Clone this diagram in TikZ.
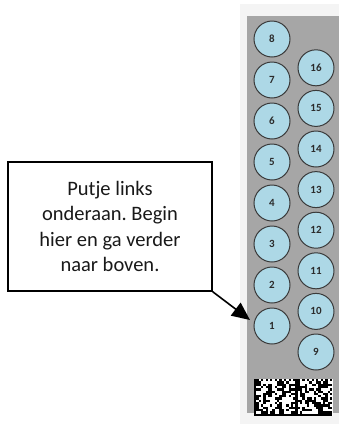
\documentclass[tikz,border=0pt]{standalone}
\usepackage{fontspec}
\setmainfont{Carlito}
\frenchspacing
\usetikzlibrary{arrows.meta}
\definecolor{strip}{HTML}{A6A6A6}
\definecolor{paleback}{HTML}{F4F4F4}
\definecolor{well}{HTML}{ADD8E6}
\definecolor{wellrim}{HTML}{3A3A3A}
\definecolor{numtext}{HTML}{2B2B2B}
\newcommand\dmblock[3]{%
  \foreach \i in {1,...,#2}{\foreach \j in {1,...,#3}{%
    \pgfmathsetmacro\r{rnd}%
    \pgfmathtruncatemacro\on{((\i==1)||(\j==#3)) ? 1 : (((\j==1)||(\i==#2)) ? (mod(\i+\j,2)==1) : (\r<0.5))}%
    \ifnum\on=1 \fill[black] ({#1+(\i-1)*2.3},{379+(\j-1)*2.3}) rectangle ++(2.3,2.3);\fi
  }}}
\begin{document}
\begin{tikzpicture}[x=1pt,y=-1pt,
  well/.style={circle,draw=wellrim,line width=1pt,fill=well,minimum size=36pt,inner sep=0pt,
    font=\fontsize{11}{12}\selectfont\bfseries,text=numtext},
  callout/.style={draw=black,line width=1.4pt,fill=white,align=center,minimum width=204pt,
    minimum height=129pt,inner sep=0pt,font=\fontsize{20.5}{25.3}\selectfont,text=black!90},
  pointer/.style={line width=1.6pt,-{Triangle[length=18pt,width=16pt]}}]
\useasboundingbox (0,0) rectangle (339,424);
\fill[paleback] (240,4) rectangle (339,424);
\fill[strip] (247,16) rectangle (339,413);
% left column 1..8
\foreach \n [evaluate=\n as \yy using {326-(\n-1)*41}] in {1,...,8}
  \node[well] (c\n) at (272,\yy) {\n};
% right column 9..16
\foreach \n [evaluate=\n as \yy using {352-(\n-9)*40.6}] in {9,...,16}
  \node[well] (c\n) at (316,\yy) {\n};
% data matrix codes
\fill[white] (254,379) rectangle (332.6,415.8);
\pgfmathsetseed{4711}
\dmblock{254}{18}{16}
\dmblock{295.4}{16}{16}
% callout
\node[callout] (box) at (110,226.5) {Putje links\\onderaan. Begin\\hier en ga verder\\naar boven.};
\coordinate (tip) at (250,320);
\draw[pointer] (box.south east) -- (tip);
\end{tikzpicture}
\end{document}
